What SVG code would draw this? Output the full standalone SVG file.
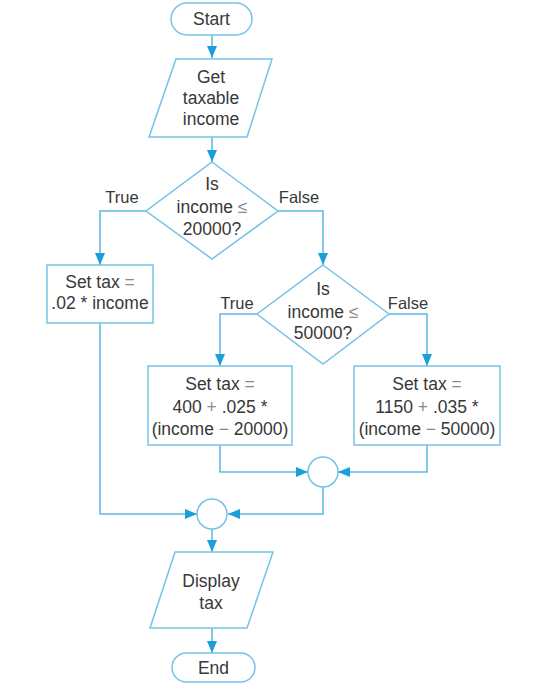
<svg xmlns="http://www.w3.org/2000/svg" width="541" height="683" viewBox="0 0 541 683">
<style>
.shape{fill:#ffffff;stroke:#74c3e6;stroke-width:1.5}
.conn{fill:none;stroke:#5db7e2;stroke-width:1.5}
.t{font-family:"Liberation Sans",Arial,sans-serif;font-size:17.5px;fill:#383838;text-anchor:middle}
.lbl{font-family:"Liberation Sans",Arial,sans-serif;font-size:16.5px;fill:#383838;text-anchor:middle}
.op{fill:#8a8a8a}
</style>
<defs>
<marker id="ah" viewBox="0 0 12 10" refX="12" refY="5" markerWidth="12" markerHeight="10" markerUnits="userSpaceOnUse" orient="auto">
<path d="M0,0 L12,5 L0,10 Z" fill="#1a9fdc"/>
</marker>
</defs>
<rect width="541" height="683" fill="#ffffff"/>
<g id="connectors">
<path class="conn" d="M212,35 V58" marker-end="url(#ah)"/>
<path class="conn" d="M212,137 V162" marker-end="url(#ah)"/>
<path class="conn" d="M146,211 H100 V265" marker-end="url(#ah)"/>
<path class="conn" d="M278,211 H323 V265" marker-end="url(#ah)"/>
<path class="conn" d="M100,323 V514 H197" marker-end="url(#ah)"/>
<path class="conn" d="M257,314 H220 V366" marker-end="url(#ah)"/>
<path class="conn" d="M389,314 H427 V366" marker-end="url(#ah)"/>
<path class="conn" d="M220,445 V472 H308" marker-end="url(#ah)"/>
<path class="conn" d="M427,445 V472 H338" marker-end="url(#ah)"/>
<path class="conn" d="M323,487 V514 H228" marker-end="url(#ah)"/>
<path class="conn" d="M212,529 V552" marker-end="url(#ah)"/>
<path class="conn" d="M212,628 V653" marker-end="url(#ah)"/>
</g>
<g id="start">
<rect class="shape" x="171" y="3" width="81" height="32" rx="16"/>
<text class="t" x="211.5" y="25">Start</text>
</g>
<g id="get-income">
<polygon class="shape" points="176,59 272,59 247,137 149,137"/>
<text class="t" x="211" y="83">Get</text>
<text class="t" x="211" y="104">taxable</text>
<text class="t" x="211" y="125">income</text>
</g>
<g id="decision1">
<polygon class="shape" points="212,162 278,211 212,259 146,211"/>
<text class="t" x="212" y="190">Is</text>
<text class="t" x="212" y="213">income <tspan class="op">≤</tspan></text>
<text class="t" x="212" y="235">20000?</text>
<text class="lbl" x="122" y="203">True</text>
<text class="lbl" x="299" y="203">False</text>
</g>
<g id="set-tax-1">
<rect class="shape" x="47" y="265" width="106" height="58"/>
<text class="t" x="100" y="288">Set tax <tspan class="op">=</tspan></text>
<text class="t" x="100" y="309">.02 * income</text>
</g>
<g id="decision2">
<polygon class="shape" points="323,265 389,314 323,364 257,314"/>
<text class="t" x="323" y="295">Is</text>
<text class="t" x="323" y="318">income <tspan class="op">≤</tspan></text>
<text class="t" x="323" y="339">50000?</text>
<text class="lbl" x="237" y="309">True</text>
<text class="lbl" x="408" y="309">False</text>
</g>
<g id="set-tax-2">
<rect class="shape" x="148" y="366" width="144" height="79"/>
<text class="t" x="220" y="390">Set tax <tspan class="op">=</tspan></text>
<text class="t" x="220" y="413">400 <tspan class="op">+</tspan> .025 *</text>
<text class="t" x="220" y="435">(income <tspan class="op">−</tspan> 20000)</text>
</g>
<g id="set-tax-3">
<rect class="shape" x="354" y="366" width="146" height="79"/>
<text class="t" x="427" y="390">Set tax <tspan class="op">=</tspan></text>
<text class="t" x="427" y="413">1150 <tspan class="op">+</tspan> .035 *</text>
<text class="t" x="427" y="435">(income <tspan class="op">−</tspan> 50000)</text>
</g>
<g id="join2">
<circle class="shape" cx="323" cy="472" r="15"/>
</g>
<g id="join1">
<circle class="shape" cx="212" cy="514" r="15"/>
</g>
<g id="display-tax">
<polygon class="shape" points="175,552 273,552 247,628 150,628"/>
<text class="t" x="211" y="587">Display</text>
<text class="t" x="211" y="609">tax</text>
</g>
<g id="end">
<rect class="shape" x="172" y="653" width="83" height="29" rx="14.5"/>
<text class="t" x="213.5" y="674">End</text>
</g>
</svg>
